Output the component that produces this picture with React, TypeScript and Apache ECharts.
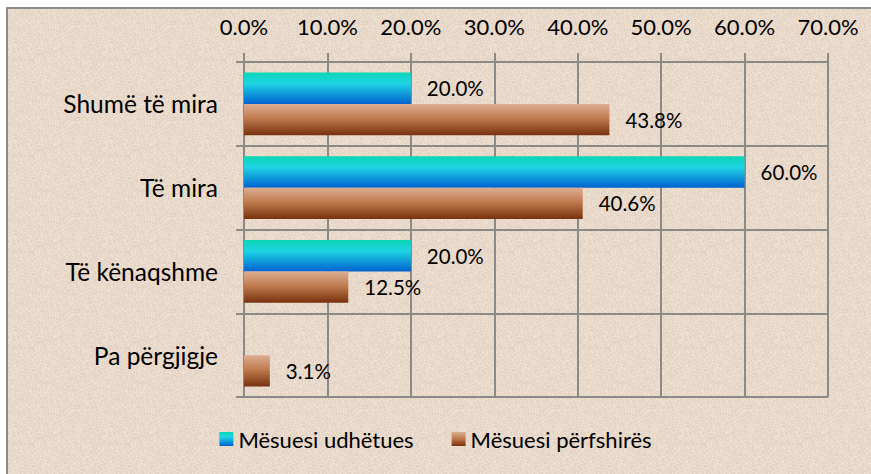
import React, { useEffect, useRef } from "react";
import * as echarts from "echarts";

const categories = ["Shumë të mira", "Të mira", "Të kënaqshme", "Pa përgjigje"];
const seriesNames = ["Mësuesi udhëtues", "Mësuesi përfshirës"];
const udhetues: (number | null)[] = [0.2, 0.6, 0.2, null];
const perfshires: number[] = [0.438, 0.406, 0.125, 0.031];
const xTicks = { min: 0, max: 0.7, interval: 0.1 };

const FONT = "Lato";
const GRID_COLOR = "#8a8a8a";

const blueGrad = new echarts.graphic.LinearGradient(0, 0, 0, 1, [
  { offset: 0, color: "#0ad6b4" },
  { offset: 0.35, color: "#1fd4e4" },
  { offset: 1, color: "#0062d0" },
]);
const brownGrad = new echarts.graphic.LinearGradient(0, 0, 0, 1, [
  { offset: 0, color: "#dcae92" },
  { offset: 0.45, color: "#c17c50" },
  { offset: 1, color: "#77320e" },
]);

const pct = (v: number) => (v * 100).toFixed(1) + "%";

function makeTexture(): HTMLCanvasElement {
  const size = 96;
  const c = document.createElement("canvas");
  c.width = size;
  c.height = size;
  const ctx = c.getContext("2d")!;
  const img = ctx.createImageData(size, size);
  let s = 12345;
  const hash = () => {
    s = (s * 1103515245 + 12345) & 0x7fffffff;
    return s / 0x7fffffff;
  };
  for (let i = 0; i < size * size; i++) {
    const n = (hash() + hash() + hash()) / 3 - 0.5;
    const d = n * 34;
    img.data[i * 4] = Math.max(0, Math.min(255, 233 + d));
    img.data[i * 4 + 1] = Math.max(0, Math.min(255, 217 + d));
    img.data[i * 4 + 2] = Math.max(0, Math.min(255, 203 + d));
    img.data[i * 4 + 3] = 255;
  }
  ctx.putImageData(img, 0, 0);
  return c;
}

export default function App() {
  const ref = useRef<HTMLDivElement>(null);
  useEffect(() => {
    if (!ref.current) return;
    const chart = echarts.init(ref.current, null, { renderer: "svg" });
    let fill: any = "#e9d9cb";
    try {
      const tex = makeTexture();
      fill = { image: tex.toDataURL(), repeat: "repeat" };
    } catch (e) {
      fill = "#e9d9cb";
    }
    const labelBase = { fontFamily: FONT, color: "#000" };
    chart.setOption({
      animation: false,
      textStyle: { fontFamily: FONT },
      graphic: [
        {
          type: "rect",
          z: -100,
          silent: true,
          shape: { x: 7, y: 8, width: 880, height: 480 },
          style: { fill: "#e9d9cb", stroke: "#8c8c8c", lineWidth: 2 },
        },
        {
          type: "rect",
          z: -99,
          silent: true,
          shape: { x: 8, y: 9, width: 880, height: 480 },
          style: { fill },
        },
      ],
      grid: { left: 244, right: 43, top: 62, bottom: 77, containLabel: false },
      legend: {
        bottom: 19,
        left: "center",
        itemWidth: 14,
        itemHeight: 14,
        itemGap: 38,
        icon: "rect",
        textStyle: { ...labelBase, fontSize: 22 },
        data: seriesNames,
      },
      xAxis: {
        type: "value",
        position: "top",
        min: xTicks.min,
        max: xTicks.max,
        interval: xTicks.interval,
        axisLine: { show: true, lineStyle: { color: GRID_COLOR, width: 2 } },
        axisTick: { show: true, length: 9, lineStyle: { color: GRID_COLOR, width: 2 } },
        splitLine: { show: true, lineStyle: { color: GRID_COLOR, width: 2 } },
        axisLabel: {
          ...labelBase,
          margin: 25,
          fontSize: 22,
          formatter: (v: number) => pct(v),
        },
      },
      yAxis: {
        type: "category",
        inverse: true,
        data: categories,
        axisLine: { show: true, lineStyle: { color: GRID_COLOR, width: 2 } },
        axisTick: { show: true, length: 8, lineStyle: { color: GRID_COLOR, width: 2 } },
        splitLine: { show: true, lineStyle: { color: GRID_COLOR, width: 2 } },
        axisLabel: { ...labelBase, margin: 26, fontSize: 24.5 },
      },
      series: [
        {
          name: seriesNames[0],
          type: "bar",
          data: udhetues,
          barGap: "0%",
          barCategoryGap: "25%",
          itemStyle: { color: blueGrad },
          label: {
            ...labelBase,
            show: true,
            position: "right",
            distance: 16,
            fontSize: 20.5,
            formatter: (p: any) => pct(p.value),
          },
        },
        {
          name: seriesNames[1],
          type: "bar",
          data: perfshires,
          barGap: "0%",
          barCategoryGap: "25%",
          itemStyle: { color: brownGrad },
          label: {
            ...labelBase,
            show: true,
            position: "right",
            distance: 16,
            fontSize: 20.5,
            formatter: (p: any) => pct(p.value),
          },
        },
      ],
    });
    return () => chart.dispose();
  }, []);
  return (
    <div
      ref={ref}
      style={{ position: "fixed", left: 0, top: 0, width: 871, height: 474, background: "#fff" }}
    />
  );
}
